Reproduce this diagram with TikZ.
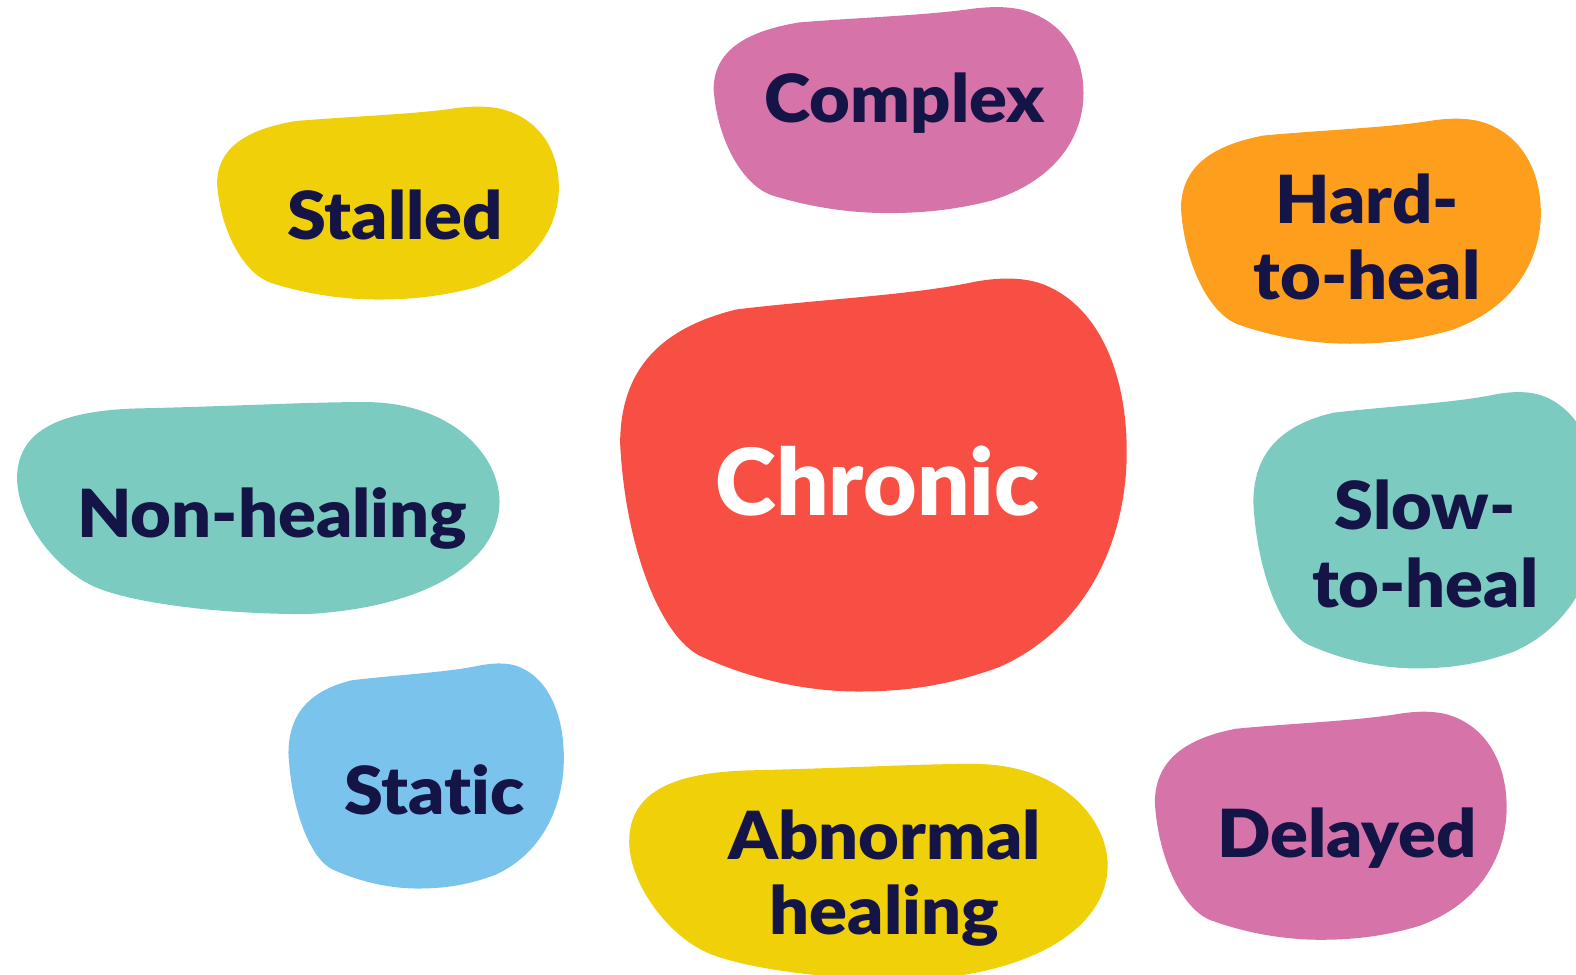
\documentclass[tikz,border=0pt]{standalone}
\usepackage{fontspec}
\setmainfont{Lato}[BoldFont={Lato Black}]
\newfontfamily\lblfont{Lato Black}[FakeStretch=1.06,Ligatures=NoCommon]
\newfontfamily\bigfont{Lato Black}[Ligatures=NoCommon]
\definecolor{ink}{HTML}{141446}
\definecolor{cpink}{HTML}{D674AA}
\definecolor{cyellow}{HTML}{F0D008}
\definecolor{corange}{HTML}{FD9E1C}
\definecolor{cred}{HTML}{F84F44}
\definecolor{cteal}{HTML}{7BCBC0}
\definecolor{cblue}{HTML}{7AC3EC}
\newcommand\blobA[5]{%
  \begin{scope}[shift={(#1,#2)},xscale=#3,yscale=#4]
    \fill[#5] (0.23,0.075) .. controls (0.40,0.05) and (0.58,0.04) .. (0.70,0.008)
      .. controls (0.76,-0.005) and (0.80,0.0) .. (0.83,0.012)
      .. controls (0.94,0.06) and (1.0,0.22) .. (1.0,0.42)
      .. controls (1.0,0.62) and (0.93,0.84) .. (0.75,0.94)
      .. controls (0.64,0.99) and (0.55,1.0) .. (0.47,1.0)
      .. controls (0.35,1.0) and (0.24,0.96) .. (0.16,0.915)
      .. controls (0.08,0.87) and (0.01,0.65) .. (0.0,0.40)
      .. controls (0.0,0.22) and (0.08,0.12) .. (0.23,0.075) -- cycle;
  \end{scope}}
\newcommand\blobB[5]{%
  \begin{scope}[shift={(#1,#2)},xscale=#3,yscale=#4]
    \fill[#5] (0.25,0.03) .. controls (0.45,0.02) and (0.60,0.0) .. (0.72,0.0)
      .. controls (0.90,0.0) and (1.0,0.25) .. (1.0,0.47)
      .. controls (1.0,0.75) and (0.85,0.97) .. (0.60,1.0)
      .. controls (0.42,1.0) and (0.25,0.95) .. (0.17,0.88)
      .. controls (0.08,0.80) and (0.0,0.55) .. (0.0,0.36)
      .. controls (0.0,0.12) and (0.10,0.04) .. (0.25,0.03) -- cycle;
  \end{scope}}
\tikzset{
  lbl/.style={anchor=base,text=ink,inner sep=0pt,font=\lblfont\fontsize{66}{66}\selectfont},
  big/.style={anchor=base,text=white,inner sep=0pt,font=\bigfont\fontsize{92}{92}\selectfont},
}
\begin{document}
\begin{tikzpicture}[x=1pt,y=-1pt]
\useasboundingbox (0,0) rectangle (1568,970);
\clip (0,0) rectangle (1568,970);
\blobA{710}{7}{368}{205}{cpink}
\blobA{216}{106}{340}{192}{cyellow}
\blobA{1175}{118}{358}{224}{corange}
\blobA{617}{277}{504}{411}{cred}
\blobB{17}{400}{480}{211}{cteal}
\blobA{1247}{390}{345}{275}{cteal}
\blobA{287}{660}{274}{224}{cblue}
\blobB{626}{760}{476}{215}{cyellow}
\blobA{1149}{708}{350}{227}{cpink}
\node[lbl] (complex) at (900,122) {Complex};
\node[lbl] (stalled) at (393,238) {Stalled};
\node[lbl] (hard1) at (1360,222) {Hard-};
\node[lbl] (hard2) at (1360,298) {to-heal};
\node[big] (chronic) at (873,513) {Chronic};
\node[lbl] (nonheal) at (271,535) {Non-healing};
\node[lbl] (slow1) at (1418,527) {Slow-};
\node[lbl] (slow2) at (1418,604) {to-heal};
\node[lbl] (static) at (432,810) {Static};
\node[lbl] (abn1) at (880,855) {Abnormal};
\node[lbl] (abn2) at (880,930) {healing};
\node[lbl] (delayed) at (1340,853) {Delayed};
\end{tikzpicture}
\end{document}
